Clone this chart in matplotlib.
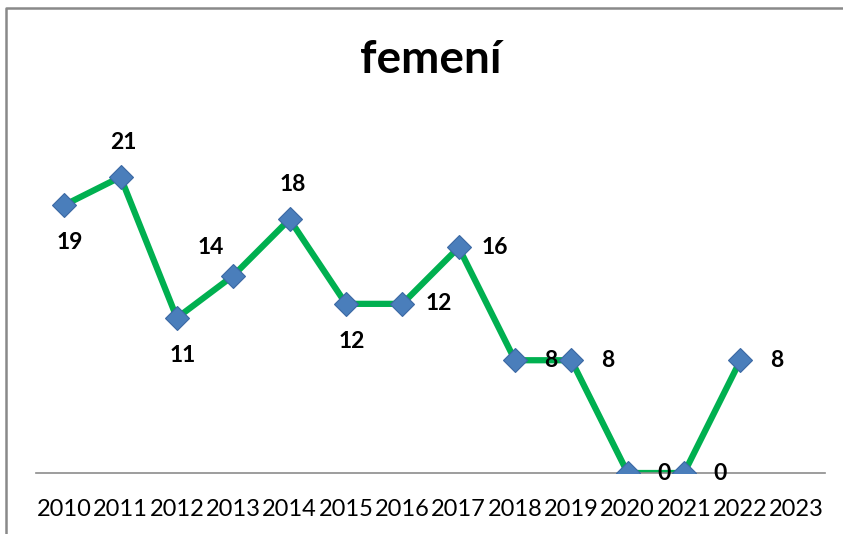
import numpy as np
import matplotlib.pyplot as plt
from matplotlib.lines import Line2D

years = ["2010", "2011", "2012", "2013", "2014", "2015", "2016",
         "2017", "2018", "2019", "2020", "2021", "2022", "2023"]
values = [19, 21, 11, 14, 18, 12, 12, 16, 8, 8, 0, 0, 8, np.nan]
# where each data label sits relative to its point
label_pos = ["below", "above", "below", "above_left", "above", "below", "right",
             "right", "right", "right", "right", "right", "right", None]

offsets = {
    "below": (4, -27),
    "above": (2, 25),
    "above_left": (-16, 20),
    "right": (26, 0),
}

plt.rcParams["font.family"] = ["Lato", "DejaVu Sans"]

fig = plt.figure(figsize=(8.43, 5.34), dpi=100)
ax = fig.add_axes([0.0427, 0.1142, 0.9359, 0.66])

x = np.arange(len(years))
ax.plot(x, values, color="#00b050", lw=4.5, zorder=2)
ax.plot(x, values, ls="none", marker="D", ms=12.5, mfc="#4a7ebb",
        mec="#3b68a3", mew=0.8, zorder=3)

for xi, v, pos in zip(x, values, label_pos):
    if pos is None:
        continue
    dx, dy = offsets[pos]
    ax.annotate(f"{int(v)}", (xi, v), xytext=(dx, dy), textcoords="offset points",
                ha="center", va="center", fontsize=16.5, fontweight="bold", zorder=4)

ax.set_xlim(-0.5, len(years) - 0.5)
ax.set_ylim(0, 25)
ax.set_xticks(x)
ax.set_xticklabels(years, fontsize=17)
ax.tick_params(axis="x", length=0, pad=19)
ax.set_yticks([])
for s in ["left", "right", "top"]:
    ax.spines[s].set_visible(False)
ax.spines["bottom"].set_color("#8c8c8c")
ax.spines["bottom"].set_linewidth(1.2)
ax.patch.set_visible(False)

fig.text(0.511, 0.888, "femení", ha="center", va="center",
         fontsize=33, fontweight="bold")

# outer chart frame (only left and top edges are inside the picture)
fig.add_artist(Line2D([0.0071, 0.0071, 1.0], [0.0, 0.985, 0.985],
                      transform=fig.transFigure, color="#898989", lw=1.8))

fig.savefig("out.png", dpi=100)
